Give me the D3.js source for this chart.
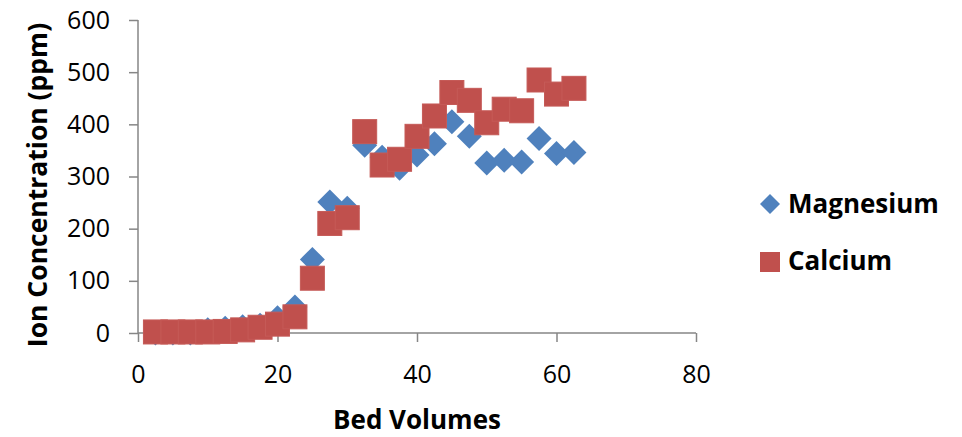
<!DOCTYPE html>
<html>
<head>
<meta charset="utf-8">
<script src="https://cdn.jsdelivr.net/npm/d3@7"></script>
<style>
  html, body { margin: 0; padding: 0; background: #fff; }
  svg { display: block; }
  text { font-family: "Open Sans", "Liberation Sans", sans-serif; fill: #000; }
</style>
</head>
<body>
<svg id="chart" width="962" height="437"></svg>
<script>
// ---- data ----
const bedVolumes = [2.5, 5, 7.5, 10, 12.5, 15, 17.5, 20, 22.5, 25, 27.5, 30, 32.5, 35, 37.5, 40, 42.5, 45, 47.5, 50, 52.5, 55, 57.5, 60, 62.5];
const magnesium = [0, 0, 0, 6, 9, 12, 15, 29, 50, 141, 251, 239, 360, 337, 316, 341, 363, 405, 377, 326, 331, 328, 373, 344, 346];
const calcium   = [2, 2, 2, 2, 3, 6, 11, 17, 31, 105, 210, 221, 386, 322, 333, 377, 416, 461, 446, 403, 429, 426, 485, 458, 469];
const xTicks = [0, 20, 40, 60, 80];
const yTicks = [0, 100, 200, 300, 400, 500, 600];
const seriesNames = ["Magnesium", "Calcium"];
const xTitle = "Bed Volumes";
const yTitle = "Ion Concentration (ppm)";

// ---- layout ----
const svg = d3.select("#chart");
const plot = { left: 138, right: 696, top: 20, bottom: 333 };
const x = d3.scaleLinear().domain([0, 80]).range([plot.left, plot.right]);
const y = d3.scaleLinear().domain([0, 600]).range([plot.bottom, plot.top]);
const axisColor = "#868686";
const blue = "#4F81BD", red = "#C0504D";

// y axis
const yAxis = svg.append("g").attr("transform", `translate(${plot.left},0)`)
  .call(d3.axisLeft(y).tickValues(yTicks).tickSize(9).tickPadding(19));
// x axis
const xAxis = svg.append("g").attr("transform", `translate(0,${plot.bottom})`)
  .call(d3.axisBottom(x).tickValues(xTicks).tickSize(9).tickPadding(23));

[yAxis, xAxis].forEach(g => {
  g.select(".domain").attr("stroke", axisColor).attr("stroke-width", 1.5);
  g.selectAll(".tick line").attr("stroke", axisColor).attr("stroke-width", 1.5);
  g.selectAll(".tick text")
    .style("font-family", '"Open Sans", sans-serif')
    .style("font-size", "25px").attr("fill", "#000");
});
yAxis.select(".domain").attr("d", `M0,${plot.top}V${plot.bottom}`);
xAxis.select(".domain").attr("d", `M${plot.left},0H${plot.right}`);

// markers
const rD = 12.5, sS = 24;
svg.append("g").selectAll("path").data(bedVolumes).join("path")
  .attr("d", (d, i) => {
    const cx = x(d), cy = y(magnesium[i]);
    return `M${cx},${cy - rD}L${cx + rD},${cy}L${cx},${cy + rD}L${cx - rD},${cy}Z`;
  })
  .attr("fill", blue);

svg.append("g").selectAll("rect").data(bedVolumes).join("rect")
  .attr("x", d => x(d) - sS / 2)
  .attr("y", (d, i) => y(calcium[i]) - sS / 2)
  .attr("width", sS).attr("height", sS)
  .attr("fill", red).attr("stroke", "#c55a57").attr("stroke-width", 1);

// axis titles
svg.append("text").attr("x", (plot.left + plot.right) / 2).attr("y", 429)
  .attr("text-anchor", "middle").style("font-weight", "bold").style("font-size", "26px")
  .text(xTitle);
svg.append("text").attr("transform", `translate(47,185) rotate(-90)`)
  .attr("text-anchor", "middle").style("font-weight", "bold").style("font-size", "26.5px")
  .text(yTitle);

// legend
const legend = svg.append("g");
const lx = 770;
legend.append("path")
  .attr("d", `M${lx},${204 - 10}L${lx + 10},204L${lx},${204 + 10}L${lx - 10},204Z`)
  .attr("fill", blue);
legend.append("rect").attr("x", lx - 10).attr("y", 252).attr("width", 20).attr("height", 20)
  .attr("fill", red);
legend.append("text").attr("x", 788).attr("y", 213).style("font-weight", "bold").style("font-size", "26px").text(seriesNames[0]);
legend.append("text").attr("x", 788).attr("y", 270).style("font-weight", "bold").style("font-size", "26px").text(seriesNames[1]);
</script>
</body>
</html>
